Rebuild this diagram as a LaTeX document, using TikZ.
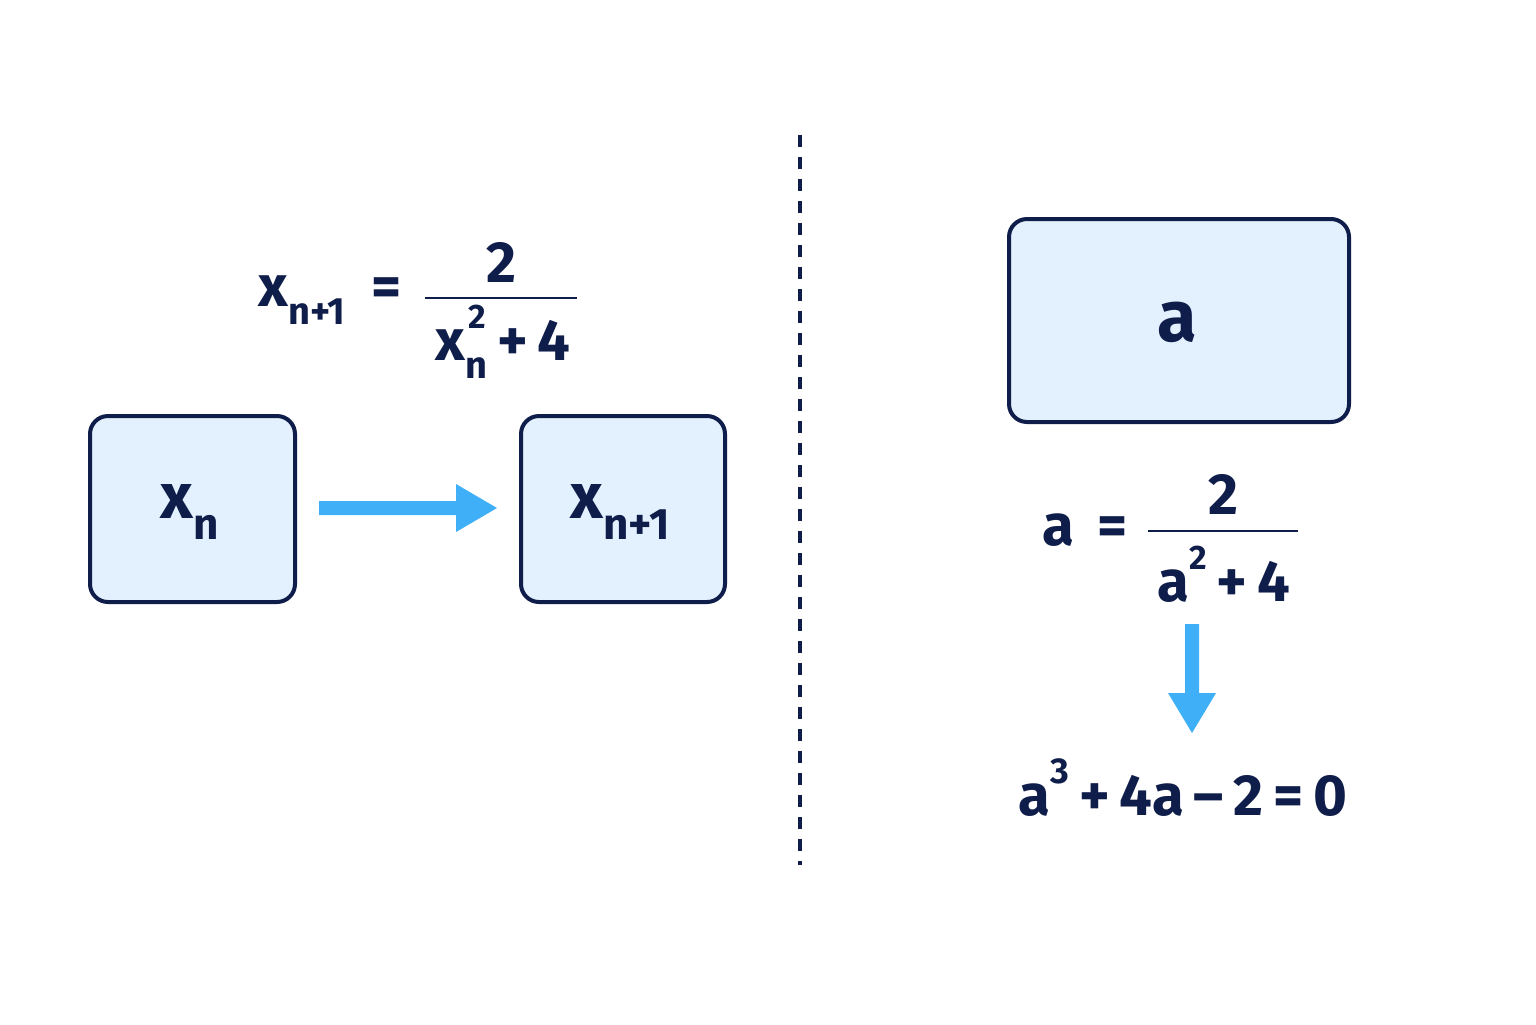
\documentclass[tikz,border=0pt]{standalone}
\usepackage{fontspec}
\setmainfont{Fira Sans}
\definecolor{navy}{HTML}{0F1D4A}
\definecolor{boxfill}{HTML}{E3F0FD}
\definecolor{arrowblue}{HTML}{3FB0F8}
\newcommand{\fs}[1]{\fontsize{#1}{#1}\selectfont}
\newcommand{\sub}[2]{\raisebox{-0.32em}{\fs{#1}#2}}
\newcommand{\sups}[2]{\raisebox{0.55em}{\fs{#1}#2}}
\begin{document}
\begin{tikzpicture}[x=0.5pt,y=-0.5pt,
  box/.style={draw=navy,fill=boxfill,line width=2pt,rounded corners=9pt},
  txt/.style={text=navy,inner sep=0pt,font=\fs{28}},
  frac/.style={draw=navy,line width=1.3pt},
  blue/.style={fill=arrowblue,draw=none}]
\useasboundingbox[fill=white] (0,0) rectangle (1536,1024);
\draw[navy,line width=1.6pt,dash pattern=on 6pt off 5pt] (800,135) coordinate (d1) -- (800,865) coordinate (d2);
% left boxes
\draw[box] (90,416) rectangle (295,602);
\node[txt,font=\fs{32}\bfseries] (xn) at (190,512) {x\sub{22}{n}};
\draw[box] (521,416) rectangle (725,602);
\node[txt,font=\fs{32}\bfseries] (xn1) at (620,512) {x\sub{22}{n+1}};
\fill[blue] (319,501) -- (456,501) -- (456,484) -- (497,508) -- (456,532) -- (456,515) -- (319,515) -- cycle;
% left formula
\node[txt,anchor=east,font=\fs{29}\bfseries] (lhs) at (402,300) {x\sub{19}{n+1}\hspace{0.45em}=};
\draw[frac] (425,298) coordinate (f1) -- (577,298) coordinate (f2);
\node[txt,font=\fs{29}\bfseries] (num1) at (501,262) {2};
\node[txt,font=\fs{29}\bfseries] (den1) at (503,342) {x\rlap{\raisebox{-0.32em}{\fs{19}n}}\raisebox{0.55em}{\fs{17}\hspace{0.08em}2}\hspace{0.2em}+\,4};
% right
\draw[box] (1009,219) rectangle (1349,422);
\node[txt,font=\fs{36}\bfseries] (a) at (1177,322) {a};
\node[txt,anchor=east,font=\fs{29}\bfseries] (lhs2) at (1128,530) {a\hspace{0.4em}=};
\draw[frac] (1148,531) coordinate (g1) -- (1298,531) coordinate (g2);
\node[txt,font=\fs{29}\bfseries] (num2) at (1223,494) {2};
\node[txt,font=\fs{29}\bfseries] (den2) at (1224,574) {a\sups{17}{2}\,+\,4};
\fill[blue] (1185,624) -- (1199,624) -- (1199,693) -- (1216,693) -- (1192,733) -- (1168,693) -- (1185,693) -- cycle;
\node[txt,font=\fs{29}\bfseries] (eq) at (1183,788) {a\sups{18}{3}\,+\,4a\,–\,2\,=\,0};
\end{tikzpicture}
\end{document}
